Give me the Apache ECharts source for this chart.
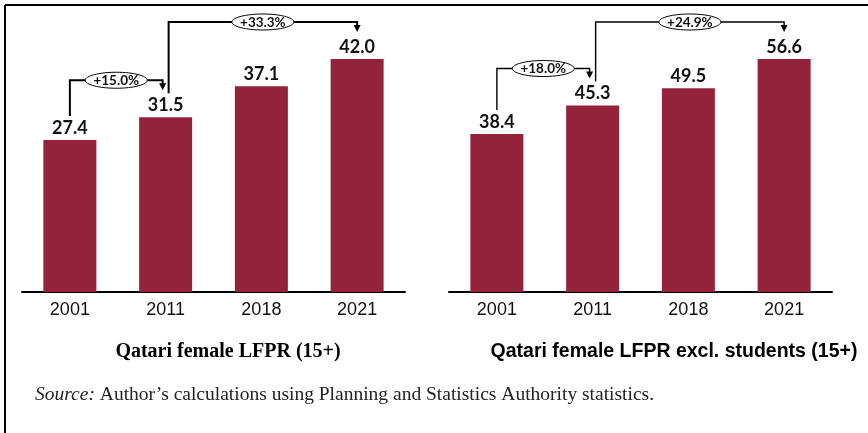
<!DOCTYPE html>
<html>
<head>
<meta charset="utf-8">
<script src="https://cdn.jsdelivr.net/npm/echarts@6/dist/echarts.min.js"></script>
<style>
html,body{margin:0;padding:0;background:#fff;}
#c{width:868px;height:433px;}
</style>
</head>
<body>
<div id="c"></div>
<script>
// ---- data ----
const years = ['2001', '2011', '2018', '2021'];
const lfpr = [27.4, 31.5, 37.1, 42.0];
const lfprExclStudents = [38.4, 45.3, 49.5, 56.6];
// growth annotations: [from index, to index]
const growthPairs = [[0, 1], [1, 3]];
const titleLeft = 'Qatari female LFPR (15+)';
const titleRight = 'Qatari female LFPR excl. students (15+)';
const sourceLabel = 'Source:';
const sourceText = ' Author\u2019s calculations using Planning and Statistics Authority statistics.';

const BAR = '#93223a';
const chart = echarts.init(document.getElementById('c'), null, {renderer: 'canvas'});

function xAx(gi) {
  return {
    type: 'category', gridIndex: gi, data: years,
    axisLine: {lineStyle: {color: '#000', width: 2}},
    axisTick: {show: false},
    axisLabel: {fontFamily: 'Liberation Sans, Arial, sans-serif', fontSize: 18, color: '#111', margin: 9}
  };
}
function yAx(gi) {
  return {type: 'value', gridIndex: gi, min: 0, max: 'dataMax', show: false, splitLine: {show: false}};
}
function barSeries(i, data) {
  return {
    type: 'bar', xAxisIndex: i, yAxisIndex: i, data: data, barWidth: 53,
    itemStyle: {color: BAR},
    label: {show: true, position: 'top', distance: 3, formatter: p => p.value.toFixed(1),
      fontFamily: 'Lato, Calibri, sans-serif', fontWeight: 'bold', fontSize: 18, color: '#111'},
    silent: true, animation: false
  };
}

chart.setOption({
  animation: false,
  grid: [
    {left: 22, width: 383, top: 59, height: 233},
    {left: 449, width: 383, top: 59, height: 233}
  ],
  xAxis: [xAx(0), xAx(1)],
  yAxis: [yAx(0), yAx(1)],
  series: [barSeries(0, lfpr), barSeries(1, lfprExclStudents)]
});

// ---- annotations computed from the chart's own scales ----
const elements = [];
// frame
elements.push({type: 'line', shape: {x1: 5, y1: 5, x2: 868, y2: 5}, style: {stroke: '#000', lineWidth: 2}});
elements.push({type: 'line', shape: {x1: 5, y1: 5, x2: 5, y2: 433}, style: {stroke: '#000', lineWidth: 2}});

function addGrowth(si, data, lw) {
  growthPairs.forEach((pr, k) => {
    const [i, j] = pr;
    const pi = chart.convertToPixel({seriesIndex: si}, [i, data[i]]);
    const pj = chart.convertToPixel({seriesIndex: si}, [j, data[j]]);
    const level = Math.min(pi[1], pj[1]) - 37;
    const xs = pi[0] + (k === 1 ? 3 : 0);
    const xe = pj[0] - (k === 0 ? 3 : 0);
    const ys = pi[1] - 24;
    const tip = pj[1] - 27;
    elements.push({type: 'polyline', shape: {points: [[xs, ys], [xs, level], [xe, level], [xe, tip - 6]]},
      style: {stroke: '#000', lineWidth: lw, fill: null}});
    elements.push({type: 'polygon', shape: {points: [[xe - 3.5, tip - 7], [xe + 3.5, tip - 7], [xe, tip]]},
      style: {fill: '#000'}});
    const pct = (data[j] / data[i] - 1) * 100;
    const cx = (xs + xe) / 2;
    elements.push({type: 'ellipse', shape: {cx: cx, cy: level, rx: 31, ry: 8},
      style: {fill: '#fff', stroke: '#000', lineWidth: 1}});
    elements.push({type: 'text', x: cx, y: level + 0.5,
      style: {text: '+' + pct.toFixed(1) + '%', align: 'center', verticalAlign: 'middle',
        font: 'bold 13.5px Lato, Calibri, sans-serif', fill: '#111'}});
  });
}
addGrowth(0, lfpr, 2);
addGrowth(1, lfprExclStudents, 1.4);

// titles
elements.push({type: 'text', x: 228, y: 352, style: {text: titleLeft, align: 'center', verticalAlign: 'middle',
  font: 'bold 20px "Liberation Serif", "Times New Roman", serif', fill: '#000'}});
elements.push({type: 'text', x: 674, y: 352, style: {text: titleRight, align: 'center', verticalAlign: 'middle',
  font: 'bold 19.5px "Liberation Sans", Arial, sans-serif', fill: '#000'}});
// source
elements.push({type: 'text', x: 35, y: 395, style: {
  text: '{i|' + sourceLabel + '}{r|' + sourceText + '}', verticalAlign: 'middle',
  rich: {
    i: {fontFamily: '"Liberation Serif", "Times New Roman", serif', fontStyle: 'italic', fontSize: 19.5, fill: '#222'},
    r: {fontFamily: '"Liberation Serif", "Times New Roman", serif', fontSize: 19.5, fill: '#222'}
  }}});

chart.setOption({graphic: {elements: elements}});
</script>
</body>
</html>
